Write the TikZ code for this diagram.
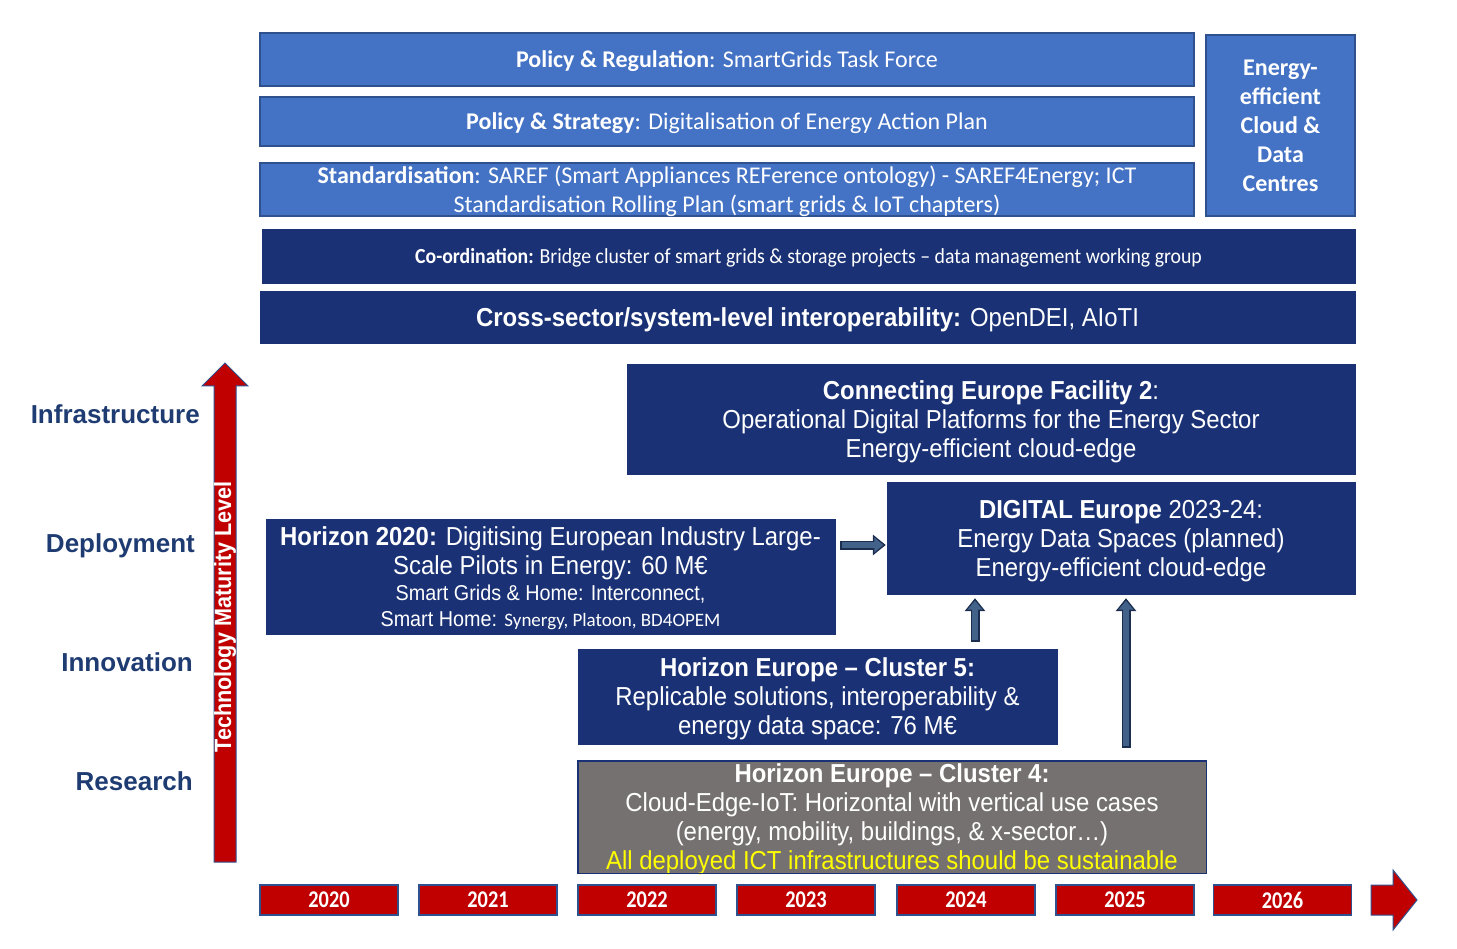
\documentclass[tikz,border=0pt]{standalone}
\usepackage{fontspec}
\setmainfont{Carlito}
\newfontfamily\arialfont[FakeStretch=0.92]{Liberation Sans}
\newfontfamily\arialwide{Liberation Sans}
\newfontfamily\condfont[FakeStretch=0.85]{Carlito}
\newfontfamily\calibrin[FakeStretch=0.92]{Carlito}
\usetikzlibrary{arrows.meta,positioning}

\definecolor{lightblue}{HTML}{4472C4}
\definecolor{rimblue}{HTML}{2F528F}
\definecolor{navy}{HTML}{1A3275}
\definecolor{greyfill}{HTML}{767171}
\definecolor{darkred}{HTML}{C00000}
\definecolor{labelblue}{HTML}{1F3C72}
\definecolor{slate}{HTML}{43628A}
\definecolor{slaterim}{HTML}{1C2E4F}
\definecolor{sunyellow}{HTML}{FFFF00}

\tikzset{
  lightbox/.style={draw=rimblue, fill=lightblue, line width=1.5pt, text=white, align=center, inner sep=0pt, text depth=0pt, font=\fontsize{24}{29}\selectfont},
  navybox/.style={draw=navy, fill=navy, text=white, align=center, inner sep=0pt, text depth=0pt, font=\arialfont\fontsize{26}{29}\selectfont},
  greybox/.style={navybox, fill=greyfill, line width=1pt},
  yearbox/.style={draw=rimblue, fill=darkred, line width=1.5pt, text=white, minimum width=138pt, minimum height=30pt, inner sep=0pt, font=\condfont\bfseries\fontsize{24}{24}\selectfont},
  levellabel/.style={anchor=base east, inner sep=0pt, text=labelblue, font=\arialwide\bfseries\fontsize{26}{26}\selectfont},
  arrowrim/.style={draw=slaterim, line width=9pt, -{Triangle[width=20pt,length=13pt]}},
  arrowcore/.style={draw=slate, line width=5.5pt, -{Triangle[width=14.5pt,length=9pt]}, shorten >=2.5pt},
  redarrow/.style={draw=rimblue, fill=darkred, line width=1pt, line join=miter}
}

\begin{document}
\begin{tikzpicture}[x=1pt, y=-1pt]
  \useasboundingbox (0,0) rectangle (1457,949);

  % policy layer
  \node[lightbox, minimum width=934pt, minimum height=53pt] (reg) at (727,59.5) {\textbf{Policy \& Regulation}: SmartGrids Task Force};
  \node[lightbox, minimum width=934pt, minimum height=49pt] (strat) at (727,121.5) {\textbf{Policy \& Strategy}: Digitalisation of Energy Action Plan};
  \node[lightbox, minimum width=934pt, minimum height=53pt] (std) at (727,189.5) {\textbf{Standardisation}: SAREF (Smart Appliances REFerence ontology) - SAREF4Energy; ICT\\Standardisation Rolling Plan (smart grids \& IoT chapters)};
  \node[lightbox, minimum width=149pt, minimum height=181pt, font=\bfseries\fontsize{24}{29}\selectfont] (cloud) at (1280.5,125.5) {Energy-\\efficient\\Cloud \&\\Data\\Centres};

  \node[navybox, minimum width=1093pt, minimum height=54pt, font=\calibrin\fontsize{21.5}{24}\selectfont] (coord) at (808.5,256) {\textbf{Co-ordination:} Bridge cluster of smart grids \& storage projects – data management working group};
  \node[navybox, minimum width=1095pt, minimum height=52pt] (cross) at (807.5,317) {\textbf{Cross-sector/system-level interoperability:} OpenDEI, AIoTI};

  % programmes
  \node[navybox, minimum width=728pt, minimum height=110pt] (cef) at (991,419) {\textbf{Connecting Europe Facility 2}:\\Operational Digital Platforms for the Energy Sector\\Energy-efficient cloud-edge};
  \node[navybox, minimum width=468pt, minimum height=112pt] (dig) at (1121,538) {\textbf{DIGITAL Europe} 2023-24:\\Energy Data Spaces (planned)\\Energy-efficient cloud-edge};
  \node[navybox, minimum width=569pt, minimum height=115pt] (h20) at (550.5,576.5) {\textbf{Horizon 2020:} Digitising European Industry Large-\\Scale Pilots in Energy: 60 M€\\[-3pt]
    \fontsize{21.5}{23}\selectfont Smart Grids \& Home: Interconnect,\\[-3pt]
    \fontsize{21.5}{23}\selectfont Smart Home: {\normalfont\fontsize{19}{23}\selectfont Synergy, Platoon, BD4OPEM}};
  \node[navybox, minimum width=479pt, minimum height=95pt] (cfive) at (817.5,696.5) {\textbf{Horizon Europe – Cluster 5:}\\Replicable solutions, interoperability \&\\energy data space: 76 M€};
  \node[greybox, minimum width=628pt, minimum height=112pt] (cfour) at (892,817) {\textbf{Horizon Europe – Cluster 4:}\\Cloud-Edge-IoT: Horizontal with vertical use cases\\(energy, mobility, buildings, \& x-sector\dots)\\\textcolor{sunyellow}{All deployed ICT infrastructures should be sustainable}};
  \draw[navy, line width=1pt] (cfour.north west) rectangle (cfour.south east);

  % block arrows
  \draw[arrowrim, shorten <=5pt, shorten >=1pt] (h20.east |- 0,545) -- (dig.west |- 0,545);
  \draw[arrowcore, shorten <=6.5pt, shorten >=3.5pt] (h20.east |- 0,545) -- (dig.west |- 0,545);
  \draw[arrowrim, shorten <=7pt, shorten >=4pt] (975,0 |- cfive.north) -- (975,0 |- dig.south);
  \draw[arrowcore, shorten <=8.5pt, shorten >=6.5pt] (975,0 |- cfive.north) -- (975,0 |- dig.south);
  \draw[arrowrim, shorten <=13pt, shorten >=4pt] (1126,0 |- cfour.north) -- (1126,0 |- dig.south);
  \draw[arrowcore, shorten <=14.5pt, shorten >=6.5pt] (1126,0 |- cfour.north) -- (1126,0 |- dig.south);

  % maturity axis
  \draw[redarrow] (214,862) -- (236,862) -- (236,386) -- (248,386) -- (225,363) -- (202,386) -- (214,386) -- cycle;
  \node[rotate=90, text=white, inner sep=0pt, font=\arialfont\bfseries\fontsize{23.5}{24}\selectfont] (tml) at (225,617) {Technology Maturity Level};

  \node[levellabel] (infra) at (200,423.5) {Infrastructure};
  \node[levellabel] (deploy) at (195,552.5) {Deployment};
  \node[levellabel] (innov) at (193,671.5) {Innovation};
  \node[levellabel] (research) at (193,790.5) {Research};

  % timeline
  \node[yearbox] (y20) at (329,900) {2020};
  \node[yearbox] (y21) at (488,900) {2021};
  \node[yearbox] (y22) at (647,900) {2022};
  \node[yearbox] (y23) at (806,900) {2023};
  \node[yearbox] (y24) at (966,900) {2024};
  \node[yearbox] (y25) at (1125,900) {2025};
  \node[yearbox] (y26) at (1282.5,900) {2026};
  \draw[redarrow] (1371,885) -- (1393,885) -- (1393,870) -- (1417,900) -- (1393,930) -- (1393,915) -- (1371,915) -- cycle;
\end{tikzpicture}
\end{document}
